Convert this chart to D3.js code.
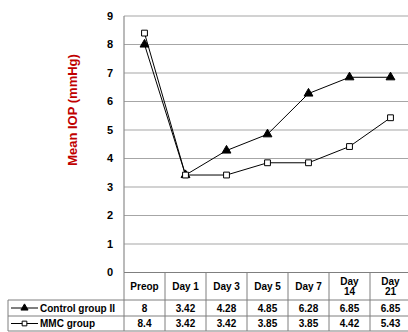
<!DOCTYPE html>
<html>
<head>
<meta charset="utf-8">
<script src="https://cdn.jsdelivr.net/npm/d3@7"></script>
<style>
  html, body { margin: 0; padding: 0; background: #fff; }
  svg { display: block; font-family: "Liberation Sans", Arial, sans-serif; }
</style>
</head>
<body>
<svg id="chart" width="408" height="332"></svg>
<script>
// Time points and mean IOP values per group
const categories = ["Preop", "Day 1", "Day 3", "Day 5", "Day 7", "Day 14", "Day 21"];
const headerLines = [["Preop"], ["Day 1"], ["Day 3"], ["Day 5"], ["Day 7"], ["Day", "14"], ["Day", "21"]];
const controlValues = [8, 3.42, 4.28, 4.85, 6.28, 6.85, 6.85];
const mmcValues = [8.4, 3.42, 3.42, 3.85, 3.85, 4.42, 5.43];
const controlLabels = ["8", "3.42", "4.28", "4.85", "6.28", "6.85", "6.85"];
const mmcLabels = ["8.4", "3.42", "3.42", "3.85", "3.85", "4.42", "5.43"];
const yTicks = [0, 1, 2, 3, 4, 5, 6, 7, 8, 9];
const seriesNames = ["Control group II", "MMC group"];

const svg = d3.select("#chart");
const plot = { left: 124, right: 411, top: 16, bottom: 272.5 };
const table = { left: 8, headerBottom: 300, row1Bottom: 316, row2Bottom: 331 };

const x = d3.scaleBand().domain(categories).range([plot.left, plot.right]).padding(0);
const y = d3.scaleLinear().domain([0, 9]).range([plot.bottom, plot.top]);

// Horizontal gridlines
svg.append("g").selectAll("line").data(yTicks.filter(d => d > 0)).join("line")
  .attr("x1", plot.left).attr("x2", plot.right)
  .attr("y1", d => y(d)).attr("y2", d => y(d))
  .attr("stroke", "#a6a6a6").attr("stroke-width", 1.2);

// Plot left border
svg.append("line").attr("x1", plot.left).attr("x2", plot.left)
  .attr("y1", plot.top).attr("y2", plot.bottom)
  .attr("stroke", "#8c8c8c").attr("stroke-width", 1.2);

// Y tick labels
svg.append("g").selectAll("text").data(yTicks).join("text")
  .attr("x", 113).attr("y", d => y(d))
  .attr("dy", "0.36em").attr("text-anchor", "end")
  .attr("font-size", 11).attr("font-weight", "bold").attr("fill", "#000")
  .text(d => d);

// Y axis title
svg.append("text")
  .attr("transform", "translate(77,110) rotate(-90)")
  .attr("text-anchor", "middle")
  .attr("font-size", 13).attr("font-weight", "bold").attr("fill", "#c00000")
  .text("Mean IOP (mmHg)");

// Data table grid
const grid = svg.append("g").attr("stroke", "#7f7f7f").attr("stroke-width", 1);
grid.append("line").attr("x1", plot.left).attr("x2", 408).attr("y1", plot.bottom).attr("y2", plot.bottom);
[table.headerBottom, table.row1Bottom, table.row2Bottom].forEach(yy => {
  grid.append("line").attr("x1", table.left).attr("x2", 408).attr("y1", yy).attr("y2", yy);
});
grid.append("line").attr("x1", table.left).attr("x2", table.left)
  .attr("y1", table.headerBottom).attr("y2", table.row2Bottom);
grid.selectAll("line.col").data(categories).join("line").attr("class", "col")
  .attr("x1", d => x(d)).attr("x2", d => x(d))
  .attr("y1", plot.bottom).attr("y2", table.row2Bottom);

// Header cells
const header = svg.append("g").attr("font-size", 10).attr("font-weight", "bold").attr("text-anchor", "middle");
categories.forEach((c, i) => {
  const lines = headerLines[i];
  const cy = (plot.bottom + table.headerBottom) / 2;
  lines.forEach((ln, j) => {
    header.append("text")
      .attr("x", x(c) + x.bandwidth() / 2)
      .attr("y", cy + (j - (lines.length - 1) / 2) * 10.5)
      .attr("dy", "0.36em")
      .text(ln);
  });
});

// Value rows
const rows = [
  { labels: controlLabels, top: table.headerBottom, bottom: table.row1Bottom },
  { labels: mmcLabels, top: table.row1Bottom, bottom: table.row2Bottom }
];
rows.forEach(r => {
  svg.append("g").attr("font-size", 10).attr("font-weight", "bold").attr("text-anchor", "middle")
    .selectAll("text").data(categories).join("text")
    .attr("x", d => x(d) + x.bandwidth() / 2)
    .attr("y", (r.top + r.bottom) / 2).attr("dy", "0.36em")
    .text((d, i) => r.labels[i]);
});

// Marker symbols
const tri = d3.symbol().type(d3.symbolTriangle).size(34);
const sq = d3.symbol().type(d3.symbolSquare).size(34);
const triSmall = d3.symbol().type(d3.symbolTriangle).size(22);
const sqSmall = d3.symbol().type(d3.symbolSquare).size(22);

// Legend keys in table rows
const legendRows = [
  { name: seriesNames[0], yy: (table.headerBottom + table.row1Bottom) / 2, sym: triSmall, fill: "#000" },
  { name: seriesNames[1], yy: (table.row1Bottom + table.row2Bottom) / 2, sym: sqSmall, fill: "#fff" }
];
legendRows.forEach(l => {
  svg.append("line").attr("x1", 11).attr("x2", 38).attr("y1", l.yy).attr("y2", l.yy)
    .attr("stroke", "#000").attr("stroke-width", 1);
  svg.append("path").attr("d", l.sym()).attr("transform", `translate(24.5,${l.yy})`)
    .attr("fill", l.fill).attr("stroke", "#000").attr("stroke-width", 1);
  svg.append("text").attr("x", 40).attr("y", l.yy).attr("dy", "0.36em")
    .attr("font-size", 10).attr("font-weight", "bold").text(l.name);
});

// Series lines and markers
const line = d3.line()
  .x((d, i) => x(categories[i]) + x.bandwidth() / 2)
  .y(d => y(d));

const series = [
  { values: controlValues, sym: tri, fill: "#000" },
  { values: mmcValues, sym: sq, fill: "#fff" }
];
series.forEach(s => {
  svg.append("path").datum(s.values).attr("d", line)
    .attr("fill", "none").attr("stroke", "#000").attr("stroke-width", 1);
});
series.forEach(s => {
  svg.append("g").selectAll("path").data(s.values).join("path")
    .attr("d", s.sym())
    .attr("transform", (d, i) => `translate(${x(categories[i]) + x.bandwidth() / 2},${y(d)})`)
    .attr("fill", s.fill).attr("stroke", "#000").attr("stroke-width", 1);
});
</script>
</body>
</html>
